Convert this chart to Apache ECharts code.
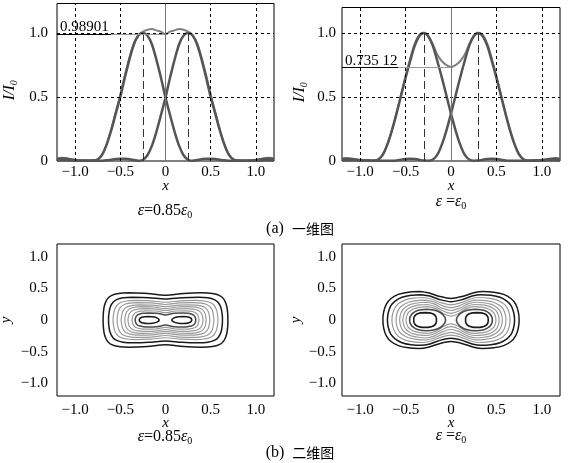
<!DOCTYPE html>
<html style="height: 100%">
<head>
<meta charset="utf-8">
</head>
<body style="height: 100%; margin: 0; background: #fff">
<div id="container" style="width: 568px; height: 463px"></div>
<script type="text/javascript" src="https://cdn.jsdelivr.net/npm/echarts@6.0.0/dist/echarts.min.js"></script>
<script type="text/javascript">
// sample positions of the 1-D profiles
var xs = [-1.2, -1.15, -1.1, -1.05, -1.0, -0.95, -0.9, -0.85, -0.8, -0.75,
          -0.7, -0.65, -0.6, -0.55, -0.5, -0.45, -0.4, -0.35, -0.3, -0.25,
          -0.2, -0.15, -0.1, -0.05, 0, 0.05, 0.1, 0.15, 0.2, 0.25,
          0.3, 0.35, 0.4, 0.45, 0.5, 0.55, 0.6, 0.65, 0.7, 0.75,
          0.8, 0.85, 0.9, 0.95, 1.0, 1.05, 1.1, 1.15, 1.2];

// eps = 0.85 eps0
var beamLeftA = [0.015, 0.02, 0.018, 0.012, 0.006, 0.003, 0.002, 0.002, 0.003, 0.012,
                 0.05, 0.13, 0.24, 0.37, 0.50, 0.65, 0.79, 0.91, 0.98, 1.00,
                 0.98, 0.91, 0.79, 0.65, 0.495, 0.36, 0.23, 0.12, 0.045, 0.01,
                 0.002, 0.008, 0.014, 0.018, 0.018, 0.015, 0.01, 0.005, 0.002, 0.001,
                 0.002, 0.002, 0.002, 0.002, 0.003, 0.004, 0.005, 0.005, 0.004];
var beamRightA = [0.004, 0.005, 0.005, 0.004, 0.003, 0.002, 0.002, 0.002, 0.002, 0.001,
                  0.002, 0.005, 0.01, 0.015, 0.018, 0.018, 0.014, 0.008, 0.002, 0.01,
                  0.045, 0.12, 0.23, 0.36, 0.495, 0.65, 0.79, 0.91, 0.98, 1.00,
                  0.98, 0.91, 0.79, 0.65, 0.50, 0.37, 0.24, 0.13, 0.05, 0.012,
                  0.003, 0.002, 0.002, 0.003, 0.006, 0.012, 0.018, 0.02, 0.015];
var sumA = [0.019, 0.025, 0.023, 0.016, 0.009, 0.005, 0.004, 0.004, 0.005, 0.013,
            0.052, 0.135, 0.25, 0.385, 0.518, 0.668, 0.804, 0.918, 0.982, 1.01,
            1.025, 1.03, 1.02, 1.01, 0.989, 1.01, 1.02, 1.03, 1.025, 1.01,
            0.982, 0.918, 0.804, 0.668, 0.518, 0.385, 0.25, 0.135, 0.052, 0.013,
            0.005, 0.004, 0.004, 0.005, 0.009, 0.016, 0.023, 0.025, 0.019];

// eps = eps0
var beamLeftB = [0.015, 0.018, 0.015, 0.01, 0.005, 0.003, 0.002, 0.002, 0.012, 0.05,
                 0.13, 0.24, 0.37, 0.51, 0.65, 0.78, 0.90, 0.975, 1.00, 0.975,
                 0.90, 0.78, 0.65, 0.51, 0.37, 0.24, 0.13, 0.05, 0.012, 0.002,
                 0.003, 0.01, 0.015, 0.018, 0.015, 0.01, 0.004, 0.002, 0.002, 0.002,
                 0.002, 0.002, 0.003, 0.003, 0.004, 0.005, 0.005, 0.005, 0.004];
var beamRightB = [0.004, 0.005, 0.005, 0.005, 0.004, 0.003, 0.003, 0.002, 0.002, 0.002,
                  0.002, 0.002, 0.004, 0.01, 0.015, 0.018, 0.015, 0.01, 0.003, 0.002,
                  0.012, 0.05, 0.13, 0.24, 0.37, 0.51, 0.65, 0.78, 0.90, 0.975,
                  1.00, 0.975, 0.90, 0.78, 0.65, 0.51, 0.37, 0.24, 0.13, 0.05,
                  0.012, 0.002, 0.002, 0.003, 0.005, 0.01, 0.015, 0.018, 0.015];
var sumB = [0.019, 0.023, 0.02, 0.015, 0.009, 0.006, 0.005, 0.004, 0.014, 0.052,
            0.132, 0.242, 0.374, 0.52, 0.665, 0.798, 0.915, 0.985, 1.003, 0.977,
            0.912, 0.83, 0.78, 0.75, 0.735, 0.75, 0.78, 0.83, 0.912, 0.977,
            1.003, 0.985, 0.915, 0.798, 0.665, 0.52, 0.374, 0.242, 0.132, 0.052,
            0.014, 0.004, 0.005, 0.006, 0.009, 0.015, 0.02, 0.023, 0.019];

var peaksA = [-0.25, 0.25];
var peaksB = [-0.3, 0.3];
var dipA = 0.98901, dipLabelA = '0.98901';
var dipB = 0.73512, dipLabelB = '0.735 12';

// contour lines, upper-right quarter [x, y] from the waist (x = 0) to the tip (y = 0)
var contoursA = [
  [[0, 0.39], [0.2, 0.42], [0.4, 0.43], [0.518, 0.42], [0.595, 0.39], [0.645, 0.33], [0.676, 0.225], [0.688, 0.105], [0.69, 0]],
  [[0, 0.33], [0.183, 0.352], [0.365, 0.36], [0.47, 0.35], [0.54, 0.322], [0.585, 0.272], [0.615, 0.186], [0.627, 0.088], [0.63, 0]],
  [[0, 0.28], [0.168, 0.303], [0.336, 0.31], [0.43, 0.3], [0.495, 0.276], [0.537, 0.233], [0.564, 0.16], [0.576, 0.076], [0.58, 0]],
  [[0, 0.245], [0.155, 0.269], [0.31, 0.275], [0.395, 0.266], [0.455, 0.244], [0.494, 0.206], [0.52, 0.141], [0.531, 0.067], [0.535, 0]],
  [[0, 0.21], [0.142, 0.234], [0.284, 0.24], [0.362, 0.231], [0.416, 0.212], [0.452, 0.179], [0.476, 0.123], [0.486, 0.058], [0.49, 0]],
  [[0, 0.18], [0.131, 0.205], [0.261, 0.21], [0.332, 0.202], [0.382, 0.185], [0.414, 0.156], [0.436, 0.107], [0.446, 0.051], [0.45, 0]],
  [[0, 0.15], [0.12, 0.176], [0.241, 0.18], [0.305, 0.173], [0.351, 0.158], [0.381, 0.133], [0.402, 0.092], [0.411, 0.044], [0.415, 0]],
  [[0, 0.115], [0.107, 0.142], [0.215, 0.145], [0.272, 0.139], [0.313, 0.127], [0.34, 0.107], [0.358, 0.074], [0.366, 0.035], [0.37, 0]],
  [[0, 0.08], [0.097, 0.107], [0.194, 0.11], [0.245, 0.105], [0.283, 0.096], [0.308, 0.081], [0.324, 0.056], [0.332, 0.027], [0.335, 0]]
];
// closed lobes round each peak, upper half of the right one
var lobesA = [
  [[0.07, 0], [0.09, 0.03], [0.14, 0.05], [0.2, 0.055], [0.25, 0.047], [0.28, 0.028], [0.29, 0]]
];
var contoursB = [
  [[0, 0.34], [0.12, 0.37], [0.25, 0.43], [0.35, 0.45], [0.47, 0.44], [0.58, 0.405], [0.66, 0.34], [0.71, 0.255], [0.74, 0.135], [0.75, 0]],
  [[0, 0.29], [0.112, 0.318], [0.233, 0.378], [0.327, 0.40], [0.44, 0.39], [0.54, 0.358], [0.615, 0.298], [0.663, 0.224], [0.69, 0.118], [0.70, 0]],
  [[0, 0.24], [0.104, 0.27], [0.217, 0.332], [0.304, 0.355], [0.41, 0.345], [0.502, 0.317], [0.572, 0.263], [0.615, 0.198], [0.641, 0.104], [0.65, 0]],
  [[0, 0.195], [0.097, 0.228], [0.201, 0.292], [0.283, 0.315], [0.38, 0.306], [0.468, 0.281], [0.532, 0.233], [0.573, 0.176], [0.597, 0.092], [0.605, 0]],
  [[0, 0.15], [0.09, 0.183], [0.188, 0.254], [0.27, 0.28], [0.358, 0.272], [0.438, 0.25], [0.498, 0.207], [0.535, 0.157], [0.557, 0.082], [0.565, 0]],
  [[0, 0.105], [0.085, 0.141], [0.18, 0.217], [0.26, 0.245], [0.342, 0.238], [0.412, 0.219], [0.467, 0.181], [0.502, 0.137], [0.522, 0.072], [0.53, 0]],
  [[0, 0.062], [0.08, 0.099], [0.17, 0.18], [0.26, 0.21], [0.33, 0.204], [0.388, 0.188], [0.438, 0.155], [0.47, 0.118], [0.488, 0.062], [0.495, 0]]
];
var lobesB = [
  [[0.06, 0], [0.07, 0.05], [0.11, 0.11], [0.18, 0.155], [0.27, 0.17], [0.36, 0.155], [0.42, 0.11], [0.45, 0.05], [0.455, 0]],
  [[0.16, 0], [0.165, 0.05], [0.19, 0.09], [0.235, 0.112], [0.285, 0.117], [0.335, 0.112], [0.38, 0.09], [0.405, 0.05], [0.41, 0]]
];

var xTicks = [-1, -0.5, 0, 0.5, 1];
var xTickLabels = ['\u22121.0', '\u22120.5', '0', '0.5', '1.0'];
var yTicksTop = [0, 0.5, 1];
var yTickLabelsTop = ['0', '0.5', '1.0'];
var gridXLines = [-1, -0.5, 0.5, 1];
var gridYLines = [0.5, 1];

var SERIF = '"Liberation Serif", "DejaVu Serif", serif';
var CJK = '"Noto Sans CJK SC", sans-serif';
var dark = '#1a1a1a', mid = '#4a4a4a', light = '#9a9a9a';
var shadeA = [dark, dark, light, light, light, light, light, light, mid];
var shadeB = [dark, dark, light, light, light, light, light];
var lobeShadeA = [dark];
var lobeShadeB = [mid, dark];

var rich = {
  e: {fontFamily: SERIF, fontStyle: 'italic', fontSize: 16, lineHeight: 18, color: '#000'},
  n: {fontFamily: SERIF, fontSize: 16, lineHeight: 18, color: '#000'},
  s: {fontFamily: SERIF, fontSize: 10, lineHeight: 10, verticalAlign: 'bottom', color: '#000'},
  c: {fontFamily: CJK, fontSize: 14, lineHeight: 18, color: '#000'}
};

function fmt(ticks, labels) {
  return function (v) {
    var i = ticks.indexOf(v);
    return i < 0 ? '' : labels[i];
  };
}

// start a closed path at its highest point so the smoothing has no corner on the sides
function closeAtTop(loop) {
  var k = 0;
  loop.forEach(function (p, j) { if (p[1] > loop[k][1]) k = j; });
  var r = loop.slice(k).concat(loop.slice(0, k));
  return r.concat([r[0]]);
}

function mergedLoop(q) {
  var upper = q.slice(1).reverse().map(function (p) { return [-p[0], p[1]]; }).concat(q);
  var lower = upper.slice(1, -1).reverse().map(function (p) { return [p[0], -p[1]]; });
  return closeAtTop(upper.concat(lower));
}

function lobeLoops(h) {
  var right = h.concat(h.slice(1, -1).reverse().map(function (p) { return [p[0], -p[1]]; }));
  var left = right.map(function (p) { return [-p[0], p[1]]; });
  return [closeAtTop(right), closeAtTop(left)];
}

var dom = document.getElementById('container');
var myChart = echarts.init(dom);

var gridBoxes = [
  {left: 57, top: 3.5, width: 217, height: 157.5},
  {left: 342, top: 7.5, width: 218, height: 153.5},
  {left: 57, top: 244, width: 217, height: 152},
  {left: 342, top: 244, width: 218, height: 152}
];

var grid = gridBoxes.map(function (b) {
  return {left: b.left, top: b.top, width: b.width, height: b.height, show: true,
          borderColor: '#000', borderWidth: 1, backgroundColor: 'transparent',
          containLabel: false, outerBoundsMode: 'none'};
});

var axisText = {fontFamily: SERIF, fontSize: 15, color: '#000'};

var xAxis = [0, 1, 2, 3].map(function (i) {
  return {
    type: 'value', gridIndex: i, min: -1.2, max: 1.2,
    axisLine: {show: false}, axisTick: {show: false}, splitLine: {show: false},
    axisLabel: Object.assign({customValues: xTicks, formatter: fmt(xTicks, xTickLabels),
                              margin: i < 2 ? 4 : 7}, axisText),
    name: 'x', nameLocation: 'middle', nameGap: i < 2 ? 18 : 20, nameMoveOverlap: false,
    nameTextStyle: {fontFamily: SERIF, fontStyle: 'italic', fontSize: 15, color: '#000'}
  };
});

var yAxis = [0, 1, 2, 3].map(function (i) {
  var top = i < 2;
  return {
    type: 'value', gridIndex: i,
    min: top ? 0 : -1.2, max: i === 0 ? 1.23 : 1.2,
    axisLine: {show: false}, axisTick: {show: false}, splitLine: {show: false},
    axisLabel: Object.assign({
      customValues: top ? yTicksTop : xTicks,
      formatter: top ? fmt(yTicksTop, yTickLabelsTop) : fmt(xTicks, xTickLabels),
      margin: i % 2 === 0 ? 9 : 6}, axisText),
    name: top ? '{i|I}{i|/}{i|I}{s|0}' : 'y',
    nameLocation: 'middle', nameRotate: 90,
    nameGap: top ? (i === 0 ? 38 : 33) : (i === 2 ? 43 : 38),
    nameTextStyle: {fontFamily: SERIF, fontStyle: 'italic', fontSize: 15, color: '#000',
      padding: top ? [0, 16, 0, 0] : 0,
      rich: {
        i: {fontFamily: SERIF, fontStyle: 'italic', fontSize: 16, lineHeight: 18, color: '#000'},
        s: {fontFamily: SERIF, fontSize: 10, lineHeight: 10, verticalAlign: 'bottom', color: '#000'}
      }}
  };
});

var dashed = {type: [3, 3], color: '#000', width: 1};

function profileSeries(gi, left, right, sum, peaks, dip, dipLabel, labelEnd, lift) {
  function curve(ys, color, width, z) {
    return {type: 'line', xAxisIndex: gi, yAxisIndex: gi, silent: true, z: z,
            data: xs.map(function (x, k) { return [x, ys[k]]; }),
            symbol: 'none', smooth: 0.3, lineStyle: {color: color, width: width}};
  }
  var marks = [];
  gridXLines.forEach(function (v) { marks.push({xAxis: v, lineStyle: dashed}); });
  gridYLines.forEach(function (v) { marks.push({yAxis: v, lineStyle: dashed}); });
  marks.push({xAxis: 0, lineStyle: {type: 'solid', color: '#777', width: 1}});
  peaks.forEach(function (p) {
    marks.push([{coord: [p, 0], lineStyle: {type: [8, 4], color: '#333', width: 1}}, {coord: [p, 1]}]);
  });
  marks.push([{coord: [-1.2, dip], lineStyle: {type: 'solid', color: '#000', width: 1},
               label: {show: true, formatter: dipLabel, position: 'insideStartTop', distance: [3, lift],
                       fontFamily: SERIF, fontSize: 15, color: '#000'}},
              {coord: [labelEnd, dip]}]);
  marks.push([{coord: [labelEnd, dip], lineStyle: {type: 'solid', color: '#999', width: 1}}, {coord: [0, dip]}]);
  var guide = {type: 'line', xAxisIndex: gi, yAxisIndex: gi, silent: true, z: 1, data: [],
               markLine: {silent: true, symbol: ['none', 'none'], animation: false,
                          label: {show: false}, data: marks}};
  return [guide, curve(sum, '#808080', 2, 3), curve(left, '#555', 2.5, 4), curve(right, '#555', 2.5, 4)];
}

function contourSeries(gi, merged, lobes, shades, lobeShades) {
  var out = [];
  merged.forEach(function (q, k) {
    out.push({type: 'line', xAxisIndex: gi, yAxisIndex: gi, silent: true, data: mergedLoop(q),
              symbol: 'none', smooth: 0.3,
              lineStyle: {color: shades[k], width: shades[k] === light ? 1.2 : 1.5}});
  });
  lobes.forEach(function (h, k) {
    lobeLoops(h).forEach(function (loop) {
      out.push({type: 'line', xAxisIndex: gi, yAxisIndex: gi, silent: true, data: loop,
                symbol: 'none', smooth: 0.3, lineStyle: {color: lobeShades[k], width: 1.6}});
    });
  });
  return out;
}

var series = [].concat(
  profileSeries(0, beamLeftA, beamRightA, sumA, peaksA, dipA, dipLabelA, -0.6, 0),
  profileSeries(1, beamLeftB, beamRightB, sumB, peaksB, dipB, dipLabelB, -0.58, -2),
  contourSeries(2, contoursA, lobesA, shadeA, lobeShadeA),
  contourSeries(3, contoursB, lobesB, shadeB, lobeShadeB)
);

function label(x, y, text) {
  return {type: 'text', x: x, y: y, silent: true,
          style: {text: text, rich: rich, align: 'center', verticalAlign: 'middle'}};
}

var option = {
  backgroundColor: '#fff',
  animation: false,
  grid: grid,
  xAxis: xAxis,
  yAxis: yAxis,
  series: series,
  graphic: [
    label(165, 211, '{e|\u03b5}{n|=0.85}{e|\u03b5}{s|0}'),
    label(451, 202, '{e|\u03b5}{n| =}{e|\u03b5}{s|0}'),
    label(300, 229, '{n|(a)  }{c|\u4e00\u7ef4\u56fe}'),
    label(165, 437, '{e|\u03b5}{n|=0.85}{e|\u03b5}{s|0}'),
    label(451, 436, '{e|\u03b5}{n| =}{e|\u03b5}{s|0}'),
    label(300, 453, '{n|(b)  }{c|\u4e8c\u7ef4\u56fe}')
  ]
};

myChart.setOption(option, true);
</script>
</body>
</html>
